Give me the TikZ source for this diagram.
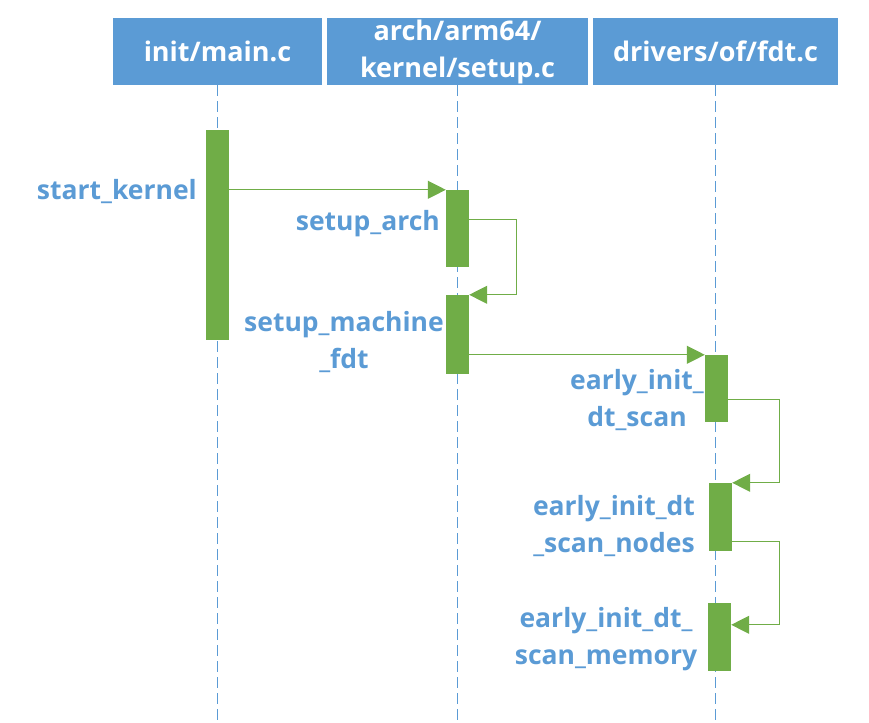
\documentclass[tikz,border=0pt]{standalone}
\usepackage{fontspec}
\setmainfont{Open Sans}
\usetikzlibrary{arrows.meta,calc,positioning}
\definecolor{fileblue}{HTML}{5B9BD5}
\definecolor{callgreen}{HTML}{70AD47}
\tikzset{
  file/.style={fill=fileblue, text=white, font=\bfseries\fontsize{27}{37}\selectfont, align=center, minimum height=67pt, inner sep=0pt},
  life/.style={draw=fileblue, dash pattern=on 11pt off 5pt, line width=1.3pt},
  act/.style={fill=callgreen, inner sep=0pt, minimum width=23pt},
  fn/.style={text=fileblue, font=\bfseries\fontsize{26.5}{37}\selectfont, align=center, inner sep=0pt},
  call/.style={draw=callgreen, line width=1.2pt, -{Triangle[length=18pt,width=18pt]}}
}
\begin{document}
\begin{tikzpicture}[x=1pt,y=-1pt]
\useasboundingbox (0,0) rectangle (869,722);
% files
\node[file, minimum width=209pt] (main) at (217.5,51.5) {init/main.c};
\node[file, minimum width=261pt] (setup) at (457.5,51.5) {arch/arm64/\\kernel/setup.c};
\node[file, minimum width=245pt] (fdt) at (715.5,51.5) {drivers/of/fdt.c};
% lifelines
\draw[life] (main.south) -- (main.south |- 0,722);
\draw[life] (setup.south) -- (setup.south |- 0,722);
\draw[life] (fdt.south) -- (fdt.south |- 0,722);
% activations
\node[act, minimum height=210pt] (b1) at (217.5,235) {};
\node[act, minimum height=77pt] (b2) at (457.5,228.5) {};
\node[act, minimum height=79pt] (b3) at (457.5,334.5) {};
\node[act, minimum height=67pt] (b4) at (716.5,388.5) {};
\node[act, minimum height=68pt] (b5) at (720.5,517) {};
\node[act, minimum height=68pt] (b6) at (719.5,637) {};
% calls
\draw[call] (b1.east |- b2.north) -- (b2.north west);
\draw[call] ($(b2.north east)+(0,30)$) -- ++(47,0) |- (b3.north east);
\draw[call] (b3.east |- b4.north) -- (b4.north west);
\draw[call] ($(b4.north east)+(0,45)$) -- ++(51,0) |- (b5.north east);
\draw[call] ($(b5.north east)+(0,59)$) -- ++(47,0) |- ($(b6.north east)+(0,22)$);
% function names
\node[fn, anchor=base east] (sk) at (197,199) {start\_kernel};
\node[fn, anchor=base east] (sa) at (440,230) {setup\_arch};
\node[fn] (smf) at (344,342) {setup\_machine\\\_fdt};
\node[fn] (eids) at (637,400) {early\_init\_\\dt\_scan};
\node[fn] (eidsn) at (614,526) {early\_init\_dt\\\_scan\_nodes};
\node[fn] (eidsm) at (606,639) {early\_init\_dt\_\\scan\_memory};
\end{tikzpicture}
\end{document}
